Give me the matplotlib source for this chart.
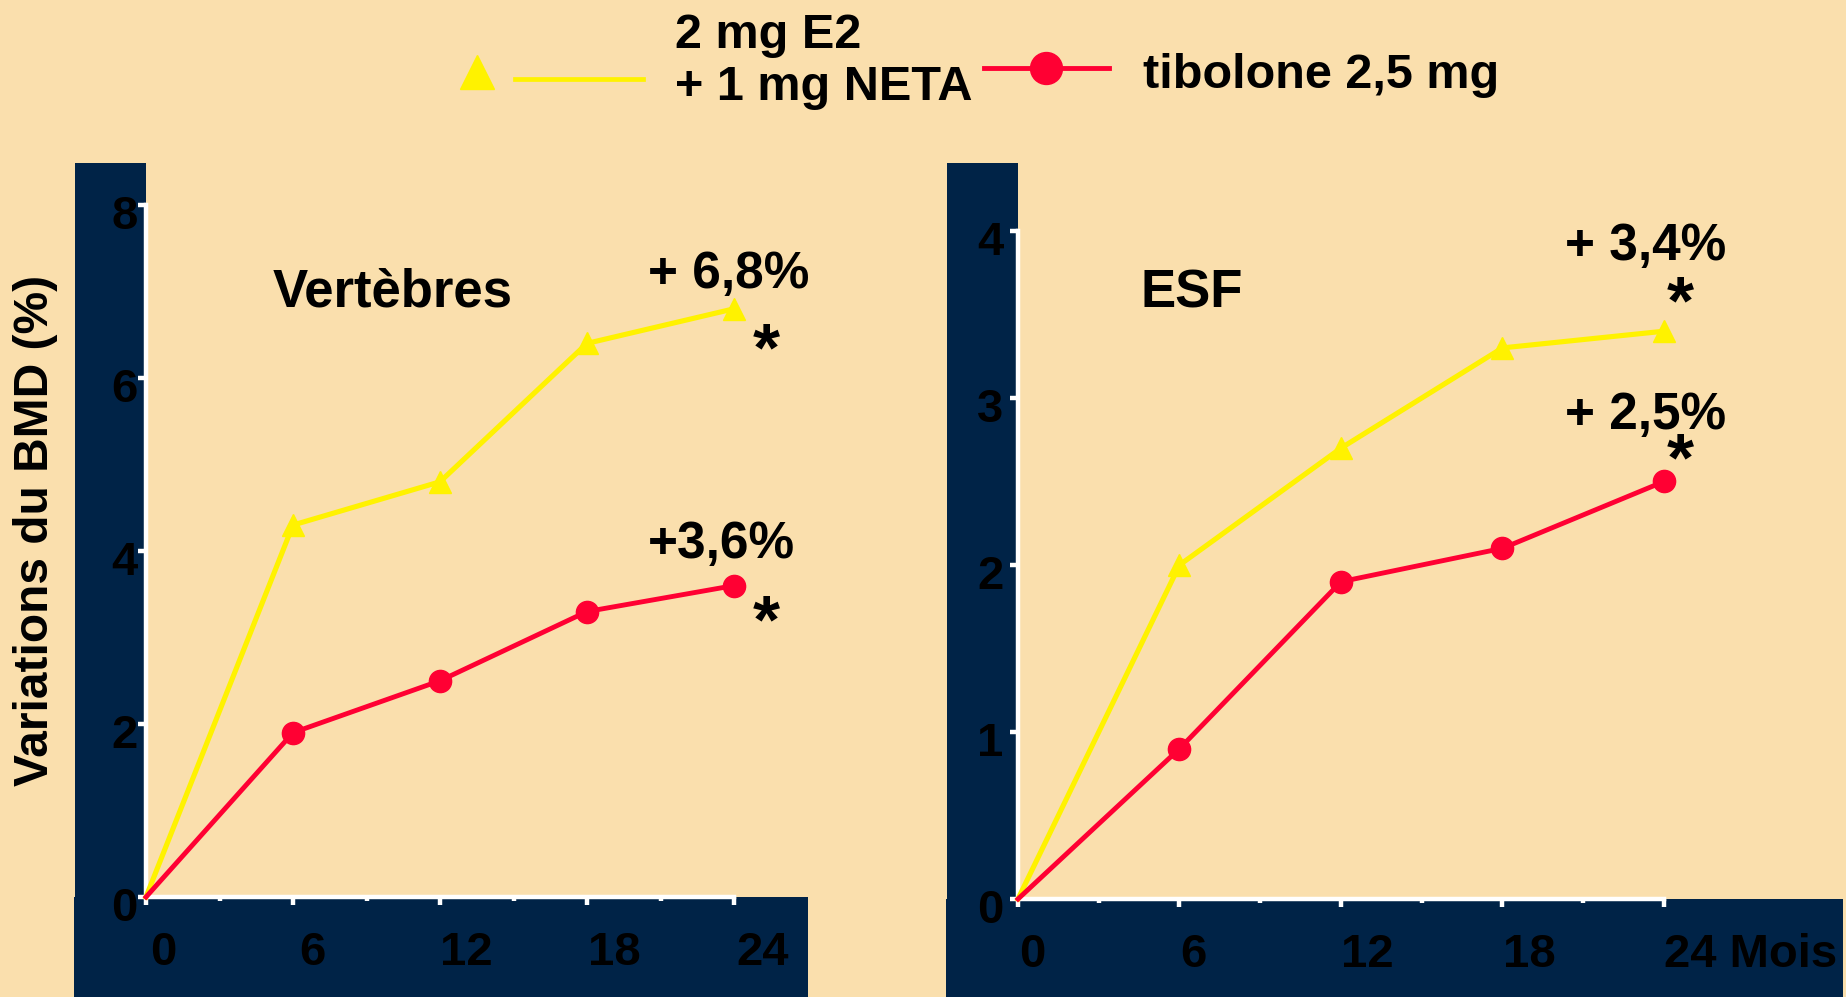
import numpy as np
import matplotlib
matplotlib.use("Agg")
import matplotlib.pyplot as plt
from matplotlib import font_manager
from matplotlib.font_manager import FontProperties
from matplotlib.lines import Line2D
from matplotlib.patches import Rectangle
from matplotlib.legend_handler import HandlerTuple, HandlerLine2D
from matplotlib.transforms import ScaledTranslation
from matplotlib.textpath import TextPath

# ---- data -------------------------------------------------------------
months = [0, 6, 12, 18, 24]
month_labels = ["0", "6", "12", "18", "24"]
minor_months = [3, 9, 15, 21]
unit_label = "Mois"

vert_e2neta = [0, 4.3, 4.8, 6.4, 6.8]
vert_tibolone = [0, 1.9, 2.5, 3.3, 3.6]
esf_e2neta = [0, 2.0, 2.7, 3.3, 3.4]
esf_tibolone = [0, 0.9, 1.9, 2.1, 2.5]

vert_yticks = [0, 2, 4, 6, 8]
esf_yticks = [0, 1, 2, 3, 4]

series_names = ["2 mg E2\n+ 1 mg NETA", "tibolone 2,5 mg"]
panel_titles = ["Vertèbres", "ESF"]
y_title = "Variations du BMD (%)"

# ---- style ------------------------------------------------------------
BG = "#FADFAD"
NAVY = "#002347"
YELLOW = "#FFF200"
RED = "#FF0033"

W, H = 1846, 997
DPI = 100

installed = {f.name for f in font_manager.fontManager.ttflist}
BASE = ["Liberation Sans", "DejaVu Sans"]
plt.rcParams["font.family"] = BASE
plt.rcParams["font.weight"] = "bold"


def fp(size, narrow=False):
    fam = BASE
    if narrow and "Liberation Sans Narrow" in installed:
        fam = ["Liberation Sans Narrow", "DejaVu Sans"]
    return FontProperties(family=fam, weight="bold", size=size)


def fx(px):
    return px / W


def fy(py):
    return 1 - py / H


class ShiftedLine(HandlerLine2D):
    """Legend line handler that lowers its artists by ``dy`` points."""

    def __init__(self, dy, **kw):
        super().__init__(**kw)
        self.dy = dy

    def create_artists(self, legend, orig_handle, xdescent, ydescent, width,
                       height, fontsize, trans):
        arts = super().create_artists(legend, orig_handle, xdescent, ydescent,
                                      width, height, fontsize, trans)
        for a in arts:
            a.set_ydata(np.asarray(a.get_ydata(), dtype=float) - self.dy)
        return arts


fig = plt.figure(figsize=(W / DPI, H / DPI), dpi=DPI, facecolor=BG)

# navy L-shaped frames behind each panel
for x0, x1, ytop, xb1, yb in [(75, 146, 163, 808, 897), (947, 1018, 163, 1843, 899)]:
    fig.add_artist(Rectangle((fx(x0), 0), fx(x1) - fx(x0), fy(ytop),
                             transform=fig.transFigure, color=NAVY, zorder=-2, lw=0))
    fig.add_artist(Rectangle((fx(x0 - 1), 0), fx(xb1) - fx(x0 - 1), fy(yb),
                             transform=fig.transFigure, color=NAVY, zorder=-2, lw=0))

ax1 = fig.add_axes([fx(146), fy(897), (734 - 146) / W, (897 - 205) / H])
ax2 = fig.add_axes([fx(1018), fy(899), (1664 - 1018) / W, (899 - 231) / H])

tick_fp = fp(34)


def pct_label(prefix, v):
    return f"{prefix}{v:.1f}%".replace(".", ",")


def star(ax, val, dx, dy_center, size=50):
    # place an asterisk so that its glyph centre sits at the given offset
    px = size * DPI / 72
    bb = TextPath((0, 0), "*", size=px, prop=fp(size)).get_extents()
    ax.annotate("*", xy=(months[-1], val), xytext=(dx, dy_center - (bb.y0 + bb.y1) / 2),
                textcoords="offset pixels", ha="center", va="baseline",
                fontproperties=fp(size), color="black")


def draw_panel(ax, e2, tib, yticks, ypad, xoffs, last_label, title, title_pos,
               labels):
    ax.set_facecolor("none")
    ax.plot(months, e2, color=YELLOW, lw=3.7, marker="^", ms=16,
            markevery=[1, 2, 3, 4], clip_on=False, zorder=3)
    ax.plot(months, tib, color=RED, lw=3.5, marker="o", ms=16,
            markevery=[1, 2, 3, 4], clip_on=False, zorder=4)
    ax.set_xlim(0, 24)
    ax.set_ylim(yticks[0], yticks[-1])
    for s in ("top", "right"):
        ax.spines[s].set_visible(False)
    for s in ("left", "bottom"):
        ax.spines[s].set_color("white")
        ax.spines[s].set_linewidth(3.2)
        ax.spines[s].set_zorder(2)
    xl = list(month_labels)
    xl[-1] = last_label
    ax.set_xticks(months, xl)
    ax.set_xticks(minor_months, minor=True)
    ax.set_yticks(yticks, [str(t) for t in yticks])
    ax.tick_params(axis="both", which="major", color="white", width=3.2,
                   length=5.5, direction="out", labelcolor="black")
    ax.tick_params(axis="x", which="minor", color="white", width=3.2,
                   length=3, direction="out")
    ax.tick_params(axis="x", which="major", pad=19)
    ax.tick_params(axis="y", which="major", pad=ypad)
    for lab in ax.get_xticklabels() + ax.get_yticklabels():
        lab.set_fontproperties(tick_fp)
    down = ScaledTranslation(0, -7 / DPI, fig.dpi_scale_trans)
    for lab in ax.get_yticklabels():
        lab.set_transform(lab.get_transform() + down)
    for lab, off in zip(ax.get_xticklabels(), xoffs):
        lab.set_transform(lab.get_transform()
                          + ScaledTranslation(off / DPI, 0, fig.dpi_scale_trans))
    ax.text(title_pos[0], title_pos[1], title, transform=ax.transAxes,
            ha="left", va="baseline", fontproperties=fp(38), color="black")
    # end-point value labels
    for val, prefix, (dx, dy), (sx, sy) in labels:
        ax.annotate(pct_label(prefix, val), xy=(months[-1], val), xytext=(dx, dy),
                    textcoords="offset pixels", ha="left", va="baseline",
                    fontproperties=fp(37), color="black")
        star(ax, val, sx, sy)


draw_panel(ax1, vert_e2neta, vert_tibolone, vert_yticks, 0.5,
           [17, 19, 26, 27, 29], month_labels[-1], panel_titles[0], (0.216, 0.853),
           [(vert_e2neta[-1], "+ ", (-86, 21), (32, -27)),
            (vert_tibolone[-1], "+", (-86, 28), (32, -22))])

draw_panel(ax2, esf_e2neta, esf_tibolone, esf_yticks, 5,
           [14, 14, 26, 27, 0], f"{month_labels[-1]} {unit_label}", panel_titles[1],
           (0.190, 0.886),
           [(esf_e2neta[-1], "+ ", (-99, 71), (16, 43)),
            (esf_tibolone[-1], "+ ", (-99, 53), (16, 36))])
ax2.get_xticklabels()[-1].set_horizontalalignment("left")

has_narrow = "Liberation Sans Narrow" in installed
fig.text(fx(36), fy(530), y_title, rotation=90, ha="center", va="center",
         fontproperties=fp(40, narrow=True) if has_narrow else fp(34.5),
         color="black")

# legend
leg_fs = 35
tri = Line2D([], [], color=YELLOW, marker="^", ms=24, ls="none")
seg = Line2D([], [], color=YELLOW, lw=3.4)
leg1 = fig.legend([(tri, seg)], [series_names[0]],
                  handler_map={tuple: HandlerTuple(ndivide=None, pad=-0.535),
                               tri: ShiftedLine(6.8),
                               seg: ShiftedLine(11.9)},
                  loc="center left", bbox_to_anchor=(fx(413), fy(62)),
                  frameon=False, borderpad=0, borderaxespad=0,
                  handlelength=4.73, handletextpad=0.66, prop=fp(leg_fs))
for t in leg1.get_texts():
    t.set_linespacing(1.2)
red_h = Line2D([], [], color=RED, lw=3.5, marker="o", ms=23)
leg2 = fig.legend([red_h], [series_names[1]],
                  handler_map={red_h: ShiftedLine(-2.0)},
                  loc="center left", bbox_to_anchor=(fx(984), fy(75)),
                  frameon=False, borderpad=0, borderaxespad=0,
                  handlelength=2.57, handletextpad=0.70, prop=fp(leg_fs))

fig.savefig("out.png", dpi=DPI, facecolor=BG)
